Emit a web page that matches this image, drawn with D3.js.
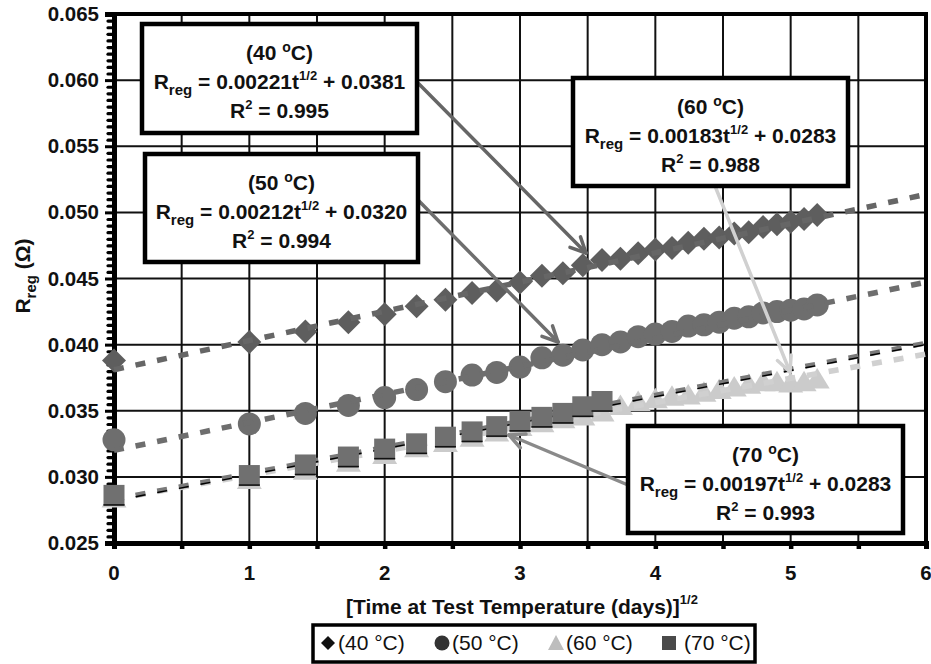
<!DOCTYPE html>
<html>
<head>
<meta charset="utf-8">
<script src="https://cdn.jsdelivr.net/npm/d3@7"></script>
<style>
  html, body { margin: 0; padding: 0; background: #fff; }
  svg { display: block; font-family: "Liberation Sans", Arial, Helvetica, sans-serif; }
</style>
</head>
<body>
<svg id="chart" width="931" height="664"></svg>
<script>
// Square root of elapsed test time, days 0..27
const sqrtDays = [0, 1, 1.414, 1.732, 2, 2.236, 2.449, 2.646, 2.828, 3, 3.162, 3.317, 3.464, 3.606,
  3.742, 3.873, 4, 4.123, 4.243, 4.359, 4.472, 4.583, 4.690, 4.796, 4.899, 5, 5.099, 5.196];

// Measured regression resistance (ohm) for each test temperature
const r40 = [0.0388, 0.0402, 0.0410, 0.0417, 0.0423, 0.0429, 0.0434, 0.0439, 0.0441, 0.0447, 0.0452, 0.0454, 0.0460, 0.0464,
  0.0465, 0.0469, 0.0472, 0.0473, 0.0477, 0.0480, 0.0481, 0.0484, 0.0485, 0.0489, 0.0491, 0.0493, 0.0495, 0.0498];
const r50 = [0.0328, 0.0340, 0.0348, 0.0354, 0.0360, 0.0366, 0.0372, 0.0377, 0.0379, 0.0383, 0.0390, 0.0392, 0.0396, 0.0400,
  0.0402, 0.0406, 0.0408, 0.0410, 0.0414, 0.0415, 0.0417, 0.0420, 0.0421, 0.0424, 0.0425, 0.0426, 0.0427, 0.0430];
const r60 = [0.0284, 0.0298, 0.0305, 0.0311, 0.0317, 0.0322, 0.0326, 0.0330, 0.0334, 0.0338, 0.0341, 0.0344, 0.0346, 0.0349,
  0.0354, 0.0357, 0.0359, 0.0361, 0.0362, 0.0364, 0.0366, 0.0368, 0.0370, 0.0372, 0.0372, 0.0371, 0.0372, 0.0374];
const r70 = [0.0286, 0.0301, 0.0309, 0.0315, 0.0321, 0.0325, 0.0330, 0.0334, 0.0338, 0.0342, 0.0345, 0.0348, 0.0353, 0.0357];

// Linear fits R = a * t^(1/2) + b
const temps = ["40", "50", "60", "70"];
const slopes = [0.00221, 0.00212, 0.00183, 0.00197];
const intercepts = [0.0381, 0.0320, 0.0283, 0.0283];
const rSquared = [0.995, 0.994, 0.988, 0.993];

const legendLabels = ["(40 °C)", "(50 °C)", "(60 °C)", "(70 °C)"];
const xTickValues = [0, 1, 2, 3, 4, 5, 6];
const yTickValues = [0.025, 0.030, 0.035, 0.040, 0.045, 0.050, 0.055, 0.060, 0.065];

const svg = d3.select("#chart");
const FONT = 21;

const plot = { left: 114, right: 926, top: 14, bottom: 543 };
const x = d3.scaleLinear().domain([0, 6]).range([plot.left, plot.right]);
const y = d3.scaleLinear().domain([0.025, 0.065]).range([plot.bottom, plot.top]);

// ---- grid ----
const grid = svg.append("g").attr("stroke", "#111").attr("stroke-width", 2);
grid.selectAll("line.vx").data(d3.range(0.5, 6, 0.5)).join("line")
  .attr("x1", d => x(d)).attr("x2", d => x(d)).attr("y1", plot.top).attr("y2", plot.bottom);
grid.selectAll("line.hy").data(yTickValues.slice(1, -1)).join("line")
  .attr("x1", plot.left).attr("x2", plot.right).attr("y1", d => y(d)).attr("y2", d => y(d));

// frame top / right
svg.append("line").attr("x1", plot.left).attr("x2", plot.right + 2).attr("y1", plot.top).attr("y2", plot.top)
  .attr("stroke", "#000").attr("stroke-width", 4);
svg.append("line").attr("x1", plot.right).attr("x2", plot.right).attr("y1", plot.top).attr("y2", plot.bottom)
  .attr("stroke", "#000").attr("stroke-width", 4);

// ---- axes ----
const yMinor = d3.range(0.0255, 0.0650, 0.0005).filter(v => Math.abs(v * 200 - Math.round(v * 200)) > 1e-6);
const yAxisMinor = svg.append("g").attr("transform", `translate(${plot.left},0)`)
  .call(d3.axisLeft(y).tickValues(yMinor).tickSize(6).tickFormat(""));
yAxisMinor.select(".domain").remove();
yAxisMinor.selectAll(".tick line").attr("stroke", "#000").attr("stroke-width", 3.2).attr("stroke-linecap", "round");

const yAxis = svg.append("g").attr("transform", `translate(${plot.left},0)`)
  .call(d3.axisLeft(y).tickValues(yTickValues).tickSize(9).tickPadding(6).tickFormat(d3.format(".3f")));
yAxis.select(".domain").attr("stroke", "#000").attr("stroke-width", 5);
yAxis.selectAll(".tick line").attr("stroke", "#000").attr("stroke-width", 3);
yAxis.selectAll(".tick text").attr("font-size", 20.5).attr("font-weight", "bold").attr("fill", "#111")
  .attr("font-family", "'Liberation Sans', Arial, sans-serif");

const xAxis = svg.append("g").attr("transform", `translate(0,${plot.bottom})`)
  .call(d3.axisBottom(x).tickValues(d3.range(0, 6.01, 0.5)).tickSize(6).tickFormat(""));
xAxis.select(".domain").attr("stroke", "#000").attr("stroke-width", 5);
xAxis.selectAll(".tick line").attr("stroke", "#000").attr("stroke-width", 4.5);

svg.append("g").selectAll("text").data(xTickValues).join("text")
  .attr("x", d => x(d)).attr("y", 580).attr("text-anchor", "middle")
  .attr("font-size", 20.5).attr("font-weight", "bold").attr("fill", "#111").text(d => d);

// axis titles
const xt = svg.append("text").attr("x", 522).attr("y", 614).attr("text-anchor", "middle")
  .attr("font-size", FONT).attr("font-weight", "bold").attr("fill", "#111");
xt.append("tspan").text("[Time at Test Temperature (days)]");
xt.append("tspan").attr("font-size", 13).attr("dy", -10).text("1/2");

const yt = svg.append("text").attr("transform", "translate(30,276) rotate(-90)").attr("text-anchor", "middle")
  .attr("font-size", FONT).attr("font-weight", "bold").attr("fill", "#111");
yt.append("tspan").text("R");
yt.append("tspan").attr("font-size", 15).attr("dy", 6).text("reg");
yt.append("tspan").attr("dy", -6).text(" (Ω)");

// ---- markers ----
const diamond = "M0,-12L12,0L0,12L-12,0Z";
const triangle = "M0,-11L12.5,9.5L-12.5,9.5Z";

function pts(vals) { return vals.map((v, i) => ({ x: sqrtDays[i], v })); }

const marks = svg.append("g");
marks.append("g").selectAll("path").data(pts(r40)).join("path")
  .attr("d", diamond).attr("transform", d => `translate(${x(d.x)},${y(d.v)})`).attr("fill", "#5e5e5e");
marks.append("g").selectAll("circle").data(pts(r50)).join("circle")
  .attr("cx", d => x(d.x)).attr("cy", d => y(d.v)).attr("r", 11.5).attr("fill", "#6e6e6e");
marks.append("g").selectAll("path").data(pts(r60)).join("path")
  .attr("d", triangle).attr("transform", d => `translate(${x(d.x)},${y(d.v)})`).attr("fill", "#cbcbcb");

// ---- fitted lines ----
function fitLine(i) {
  return [0, 6].map(t => [x(t), y(slopes[i] * t + intercepts[i])]);
}
const trend = svg.append("g").attr("fill", "none");
const lineGen = d3.line();
trend.append("path").attr("d", lineGen(fitLine(0))).attr("stroke", "#666").attr("stroke-width", 5.5).attr("stroke-dasharray", "10,12");
trend.append("path").attr("d", lineGen(fitLine(1))).attr("stroke", "#6e6e6e").attr("stroke-width", 5.5).attr("stroke-dasharray", "10,12");
trend.append("path").attr("d", lineGen(fitLine(2))).attr("stroke", "#d0d0d0").attr("stroke-width", 5.5).attr("stroke-dasharray", "10,12");

// 70 °C markers, drawn above the 60 °C series
const sq = svg.append("g");
sq.selectAll("rect").data(pts(r70)).join("rect")
  .attr("x", d => x(d.x) - 10.5).attr("y", d => y(d.v) - 10.5).attr("width", 21).attr("height", 21).attr("fill", "#707070");
sq.selectAll("line").data(pts(r70)).join("line")
  .attr("x1", d => x(d.x) - 10.5).attr("x2", d => x(d.x) + 10.5)
  .attr("y1", d => y(d.v) + 9.5).attr("y2", d => y(d.v) + 9.5).attr("stroke", "#111").attr("stroke-width", 1.5);

trend.append("path").attr("d", lineGen(fitLine(3))).attr("stroke", "#7a7a7a").attr("stroke-width", 5).attr("stroke-dasharray", "10,12");
trend.append("path").attr("d", lineGen(fitLine(3))).attr("stroke", "#000").attr("stroke-width", 1.4)
  .attr("stroke-dasharray", "10,12").attr("transform", "translate(0,1.5)");

// ---- callout arrows ----
function arrow(x1, y1, x2, y2, color, w) {
  const g = svg.append("g").attr("stroke", color).attr("stroke-width", w).attr("fill", "none").attr("stroke-linecap", "round");
  g.append("line").attr("x1", x1).attr("y1", y1).attr("x2", x2).attr("y2", y2);
  const ang = Math.atan2(y2 - y1, x2 - x1), L = 17, spread = 0.45;
  [ang + Math.PI - spread, ang + Math.PI + spread].forEach(a => {
    g.append("line").attr("x1", x2).attr("y1", y2).attr("x2", x2 + L * Math.cos(a)).attr("y2", y2 + L * Math.sin(a));
  });
}
arrow(417, 82, 586, 253, "#666", 3.5);
arrow(418, 200, 558, 342, "#6e6e6e", 3.5);
arrow(715, 186, 790, 372, "#d0d0d0", 3.5);
arrow(628, 485, 509, 435, "#8a8a8a", 3.5);

// ---- equation boxes ----
const boxes = [
  { i: 0, x0: 142, y0: 24, x1: 417, y1: 133 },
  { i: 1, x0: 145, y0: 154, x1: 418, y1: 262 },
  { i: 2, x0: 573, y0: 78, x1: 848, y1: 186 },
  { i: 3, x0: 628, y0: 426, x1: 903, y1: 533 }
];
boxes.forEach(b => {
  const g = svg.append("g");
  g.append("rect").attr("x", b.x0).attr("y", b.y0).attr("width", b.x1 - b.x0).attr("height", b.y1 - b.y0)
    .attr("fill", "#fff").attr("stroke", "#000").attr("stroke-width", 4.5);
  const cx = (b.x0 + b.x1) / 2;
  const t = g.append("g").attr("font-size", FONT).attr("font-weight", "bold").attr("fill", "#111").attr("text-anchor", "middle");
  const l1 = t.append("text").attr("x", cx).attr("y", b.y0 + 36);
  l1.append("tspan").text(`(${temps[b.i]} `);
  l1.append("tspan").attr("font-size", 14).attr("dy", -8).text("o");
  l1.append("tspan").attr("dy", 8).text("C)");
  const l2 = t.append("text").attr("x", cx).attr("y", b.y0 + 65);
  l2.append("tspan").text("R");
  l2.append("tspan").attr("font-size", 15).attr("dy", 6).text("reg");
  l2.append("tspan").attr("dy", -6).text(` = ${d3.format(".5f")(slopes[b.i])}t`);
  l2.append("tspan").attr("font-size", 13).attr("dy", -9).text("1/2");
  l2.append("tspan").attr("dy", 9).text(` + ${d3.format(".4f")(intercepts[b.i])}`);
  const l3 = t.append("text").attr("x", cx).attr("y", b.y0 + 94);
  l3.append("tspan").text("R");
  l3.append("tspan").attr("font-size", 13).attr("dy", -9).text("2");
  l3.append("tspan").attr("dy", 9).text(` = ${d3.format(".3f")(rSquared[b.i])}`);
});

// ---- legend ----
const lg = svg.append("g");
lg.append("rect").attr("x", 313).attr("y", 625).attr("width", 442).attr("height", 37)
  .attr("fill", "#fff").attr("stroke", "#000").attr("stroke-width", 3.5);
const legendPos = [
  { mx: 328, tx: 338 },
  { mx: 442, tx: 452 },
  { mx: 556, tx: 566 },
  { mx: 669, tx: 684 }
];
const cy = 643;
lg.append("path").attr("d", "M0,-7L7,0L0,7L-7,0Z").attr("transform", `translate(${legendPos[0].mx},${cy})`).attr("fill", "#111");
lg.append("circle").attr("cx", legendPos[1].mx).attr("cy", cy).attr("r", 7.5).attr("fill", "#333");
lg.append("path").attr("d", "M0,-8L8,7L-8,7Z").attr("transform", `translate(${legendPos[2].mx},${cy})`).attr("fill", "#bdbdbd");
lg.append("rect").attr("x", legendPos[3].mx - 7).attr("y", cy - 7).attr("width", 14).attr("height", 14).attr("fill", "#4a4a4a");
lg.selectAll("text").data(legendLabels).join("text")
  .attr("x", (d, i) => legendPos[i].tx).attr("y", cy + 7)
  .attr("font-size", FONT).attr("fill", "#111").text(d => d);
</script>
</body>
</html>
